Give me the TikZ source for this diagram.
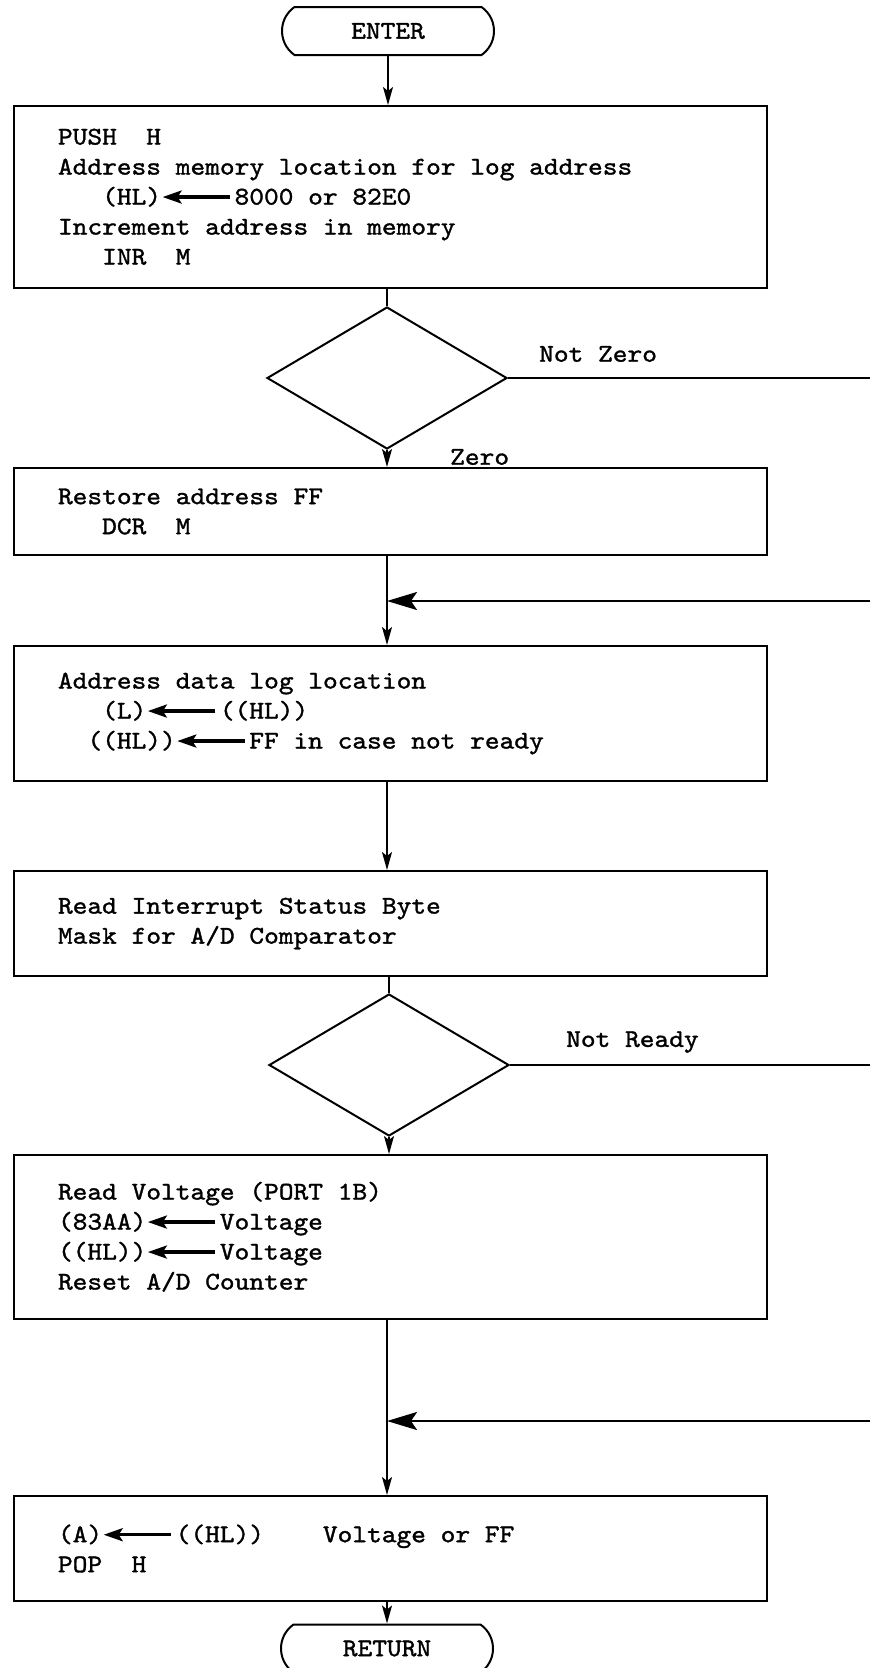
\documentclass[tikz,border=0pt]{standalone}
\usetikzlibrary{shapes.geometric,shapes.misc,arrows.meta}
\font\twfont="[lmmono10-regular]:extend=1.1;embolden=1.3" at 25.5pt
\newcommand\slotarrow{\tikz[baseline=0pt]{\useasboundingbox (0pt,0pt) rectangle (73.5pt,1pt);\draw[line width=3.2pt,-{Stealth[length=19pt,width=13pt,inset=4pt]}] (69pt,7.5pt) -- (1.5pt,7.5pt);}}
\newcommand\monotext{\twfont\baselineskip=30pt\relax}
\newcommand\ms{\baselineskip=30pt\spaceskip=\fontcharwd\font`0\relax\xspaceskip=\spaceskip}
\begin{document}
\begin{tikzpicture}[x=1pt,y=-1pt,
  txt/.style={font=\monotext},
  box/.style={txt, draw, line width=2pt, rectangle, minimum width=753pt, text width=665pt, inner xsep=44pt, inner ysep=0pt, align=left},
  term/.style={txt, draw, line width=2pt, rounded rectangle, rounded rectangle arc length=110, minimum width=212pt, minimum height=48pt, inner sep=0pt},
  dia/.style={draw, line width=2pt, diamond, minimum width=240pt, minimum height=142pt, inner sep=0pt},
  lbl/.style={txt, inner sep=0pt},
  plain/.style={line width=1.8pt},
  flow/.style={line width=1.8pt, -{Stealth[length=18pt,width=10pt,inset=4pt]}},
  merge/.style={line width=2.4pt, -{Stealth[length=30pt,width=18pt,inset=6pt]}}
]
\useasboundingbox (0,0) rectangle (870,1668);
\fill[white] (0,0) rectangle (870,1668);

\node[term] (enter) at (388,31) {ENTER};
\node[box, minimum height=181.5pt] (b1) at (390.5,196.75) {\ms PUSH~~H\\Address memory location for log address\\\phantom{XXX}(HL)\slotarrow 8000 or 82E0\\Increment address in memory\\\phantom{XXX}INR~~M};
\node[dia] (d1) at (387,378) {};
\node[box, minimum height=87pt] (b2) at (390.5,511.5) {\ms Restore address FF\\\phantom{XXX}DCR~~M};
\node[box, minimum height=135pt] (b3) at (390.5,713.5) {\ms Address data log location\\\phantom{XXX}(L)\slotarrow((HL))\\\phantom{XX}((HL))\slotarrow FF in case not ready\\[6pt]};
\node[box, minimum height=105pt] (b4) at (390.5,923.5) {\ms Read Interrupt Status Byte\\Mask for A/D Comparator\\[-2pt]};
\node[dia] (d2) at (389,1065) {};
\node[box, minimum height=163.5pt] (b5) at (390.5,1236.75) {\ms Read Voltage (PORT 1B)\\(83AA)\slotarrow Voltage\\((HL))\slotarrow Voltage\\Reset A/D Counter\\[1pt]};
\node[box, minimum height=105pt] (b6) at (390.5,1548.5) {\ms (A)\slotarrow((HL))~~~~Voltage or FF\\POP~~H\\[1pt]};
\node[term] (ret) at (387,1648.5) {RETURN};

\node[lbl, anchor=west] (lnz) at (539,354) {Not Zero};
\node[lbl, anchor=west] (lz) at (450,457) {Zero};
\node[lbl, anchor=west] (lnr) at (566,1042) {Not Ready};

\coordinate (nz) at (870,378);
\coordinate (nr) at (870,1065);
\coordinate (r1) at (870,601);
\coordinate (j1) at (387,601);
\coordinate (r2) at (870,1421);
\coordinate (j2) at (387,1421);

\draw[flow] (enter.south) -- (enter.south |- b1.north);
\draw[plain] (b1.south -| d1) -- (d1.north);
\draw[flow] (d1.south) -- (d1.south |- b2.north);
\draw[plain] (d1.east) -- (nz);
\draw[flow] (b2.south -| d1) -- (b3.north -| d1);
\draw[merge] (r1) -- (j1);
\draw[flow] (b3.south -| d1) -- (b4.north -| d1);
\draw[plain] (b4.south -| d2) -- (d2.north);
\draw[flow] (d2.south) -- (d2.south |- b5.north);
\draw[plain] (d2.east) -- (nr);
\draw[flow] (b5.south -| d1) -- (b6.north -| d1);
\draw[merge] (r2) -- (j2);
\draw[flow] (b6.south -| ret) -- (ret.north);
\end{tikzpicture}
\end{document}
